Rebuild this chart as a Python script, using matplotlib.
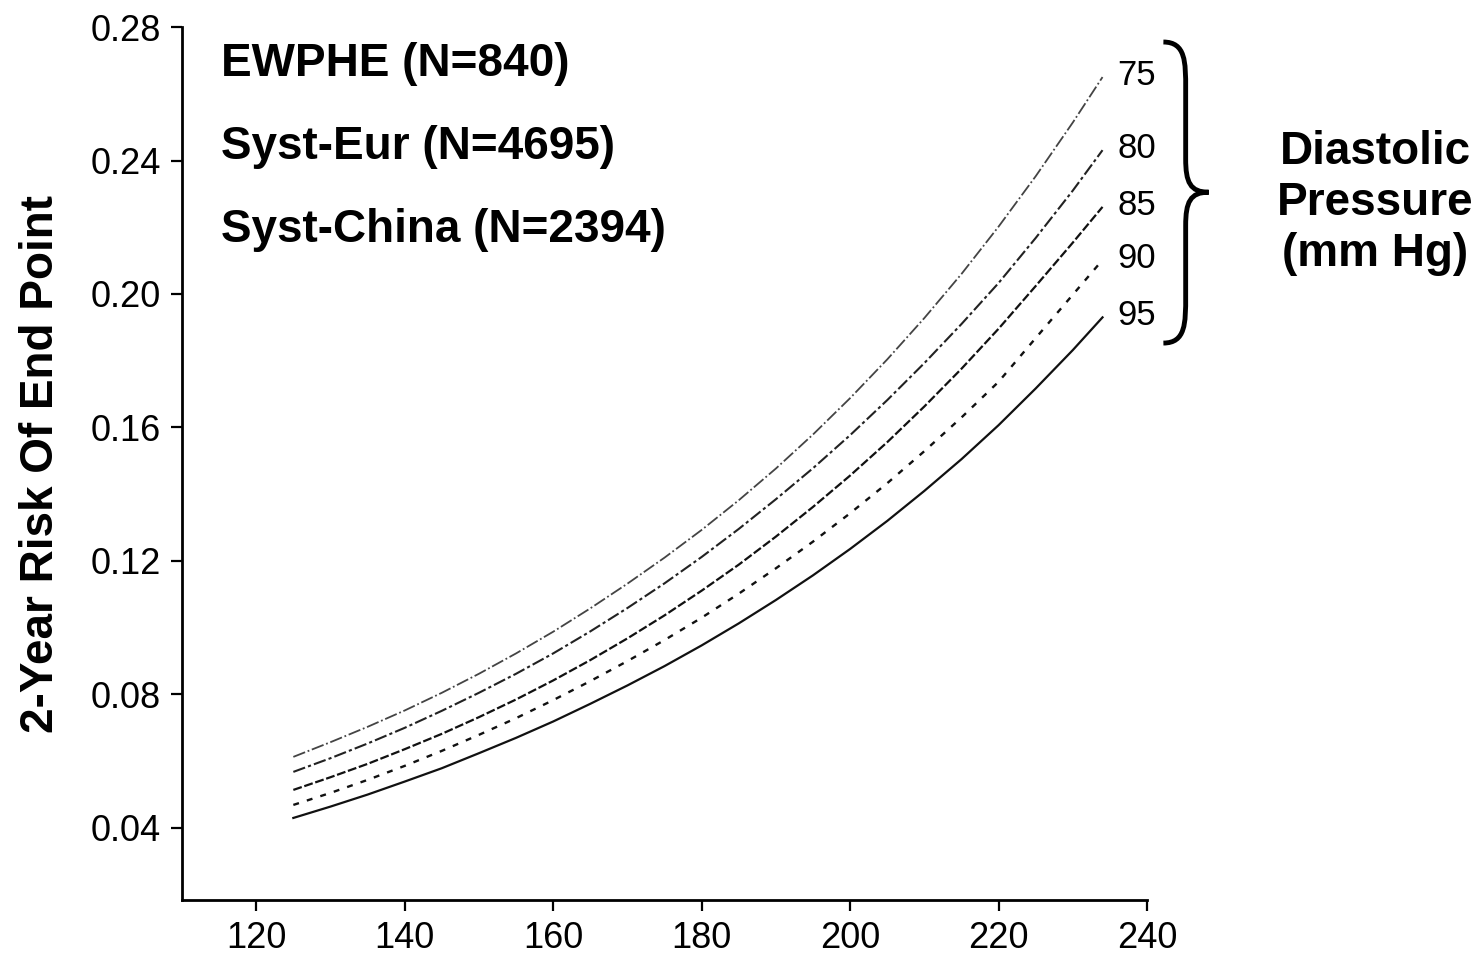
import matplotlib
matplotlib.use("Agg")
import matplotlib.pyplot as plt
from matplotlib.path import Path
import matplotlib.patches as mpatches

# systolic pressure (mm Hg) where the risk curves were read
sbp = [125, 130, 135, 140, 145, 150, 155, 160, 165, 170, 175, 180,
       185, 190, 195, 200, 205, 210, 215, 220, 225, 230, 234]

# 2-year risk of end point for each diastolic pressure level
risk_75 = [0.0613, 0.0657, 0.0703, 0.0752, 0.0805, 0.0862, 0.0923, 0.0988, 0.1058, 0.1132, 0.1210, 0.1293,
           0.1382, 0.1477, 0.1579, 0.1688, 0.1804, 0.1928, 0.2060, 0.2202, 0.2353, 0.2514, 0.2650]
risk_80 = [0.0568, 0.0609, 0.0653, 0.0700, 0.0751, 0.0805, 0.0862, 0.0923, 0.0989, 0.1059, 0.1133, 0.1212,
           0.1296, 0.1385, 0.1478, 0.1577, 0.1682, 0.1793, 0.1910, 0.2033, 0.2168, 0.2310, 0.2431]
risk_85 = [0.0514, 0.0552, 0.0592, 0.0636, 0.0682, 0.0732, 0.0785, 0.0842, 0.0903, 0.0968, 0.1037, 0.1111,
           0.1189, 0.1273, 0.1362, 0.1456, 0.1556, 0.1663, 0.1776, 0.1896, 0.2024, 0.2154, 0.2261]
risk_90 = [0.0469, 0.0505, 0.0544, 0.0586, 0.0631, 0.0679, 0.0729, 0.0783, 0.0840, 0.0900, 0.0963, 0.1030,
           0.1102, 0.1178, 0.1258, 0.1343, 0.1433, 0.1529, 0.1630, 0.1737, 0.1868, 0.1998, 0.2102]
risk_95 = [0.0430, 0.0464, 0.0500, 0.0539, 0.0579, 0.0624, 0.0670, 0.0719, 0.0772, 0.0827, 0.0885, 0.0947,
           0.1013, 0.1083, 0.1157, 0.1236, 0.1320, 0.1410, 0.1505, 0.1607, 0.1717, 0.1832, 0.1930]

dbp_labels = ["75", "80", "85", "90", "95"]
trials = ["EWPHE (N=840)", "Syst-Eur (N=4695)", "Syst-China (N=2394)"]

x_ticks = [120, 140, 160, 180, 200, 220, 240]
y_ticks = [0.04, 0.08, 0.12, 0.16, 0.20, 0.24, 0.28]

plain = ["Liberation Sans", "DejaVu Sans"]

fig = plt.figure(figsize=(14.82, 9.58), dpi=100)
ax = fig.add_axes([0.1228, 0.0605, 0.6512, 0.9113])

styles = [
    dict(color="#444444", linestyle=(0, (7, 1.5, 1, 1.5)), linewidth=1.3),
    dict(color="#222222", linestyle=(0, (6, 1.5, 1.5, 1.5)), linewidth=1.5),
    dict(color="#111111", linestyle=(0, (4, 1.2)), linewidth=1.6),
    dict(color="#111111", linestyle=(0, (2.5, 3.5)), linewidth=1.7),
    dict(color="#111111", linestyle="-", linewidth=1.6),
]
series = [risk_75, risk_80, risk_85, risk_90, risk_95]

for vals, st, lab in zip(series, styles, dbp_labels):
    ax.plot(sbp, vals, **st)
    ax.text(sbp[-1] + 2.0, vals[-1] + 0.0005, lab, fontsize=25, family=plain,
            ha="left", va="center", clip_on=False)

# curly brace grouping the diastolic labels
xb, xm, xt = 242.2, 245.2, 248.3
yt, yc, yb = 0.2755, 0.2305, 0.1853
verts = [
    (xb, yt), (xm, yt), (xm, yt - 0.006), (xm, yt - 0.014),
    (xm, yc + 0.010), (xm, yc + 0.003), (xm + 0.6, yc), (xt, yc),
    (xm + 0.6, yc), (xm, yc - 0.003), (xm, yc - 0.010),
    (xm, yb + 0.014), (xm, yb + 0.006), (xm, yb), (xb, yb),
]
codes = [Path.MOVETO,
         Path.CURVE4, Path.CURVE4, Path.CURVE4,
         Path.LINETO, Path.CURVE4, Path.CURVE4, Path.CURVE4,
         Path.CURVE4, Path.CURVE4, Path.CURVE4,
         Path.LINETO, Path.CURVE4, Path.CURVE4, Path.CURVE4]
brace = mpatches.PathPatch(Path(verts, codes), facecolor="none", edgecolor="black",
                           linewidth=3.5, clip_on=False)
ax.add_patch(brace)

fig.text(0.928, 0.788, "Diastolic\nPressure\n(mm Hg)", fontsize=33, fontweight="bold",
         family=plain, ha="center", va="center", linespacing=1.2)

for i, t in enumerate(trials):
    ax.text(0.04, 0.958 - i * 0.095, t, transform=ax.transAxes, fontsize=33,
            fontweight="bold", family=plain, ha="left", va="center")

ax.set_xlim(110, 240)
ax.set_ylim(0.0184, 0.28)
ax.set_xticks(x_ticks)
ax.set_yticks(y_ticks)
ax.set_xticklabels([str(v) for v in x_ticks], fontsize=26, family=plain)
ax.set_yticklabels(["%.2f" % v for v in y_ticks], fontsize=26, family=plain)
ax.tick_params(axis="both", direction="out", length=8, width=1.6, pad=7)

ax.spines["top"].set_visible(False)
ax.spines["right"].set_visible(False)
for s in ["left", "bottom"]:
    ax.spines[s].set_linewidth(2)

ax.set_ylabel("2-Year Risk Of End Point", fontsize=33, fontweight="bold", family=plain,
              labelpad=20)

fig.savefig("out.png", dpi=100)
